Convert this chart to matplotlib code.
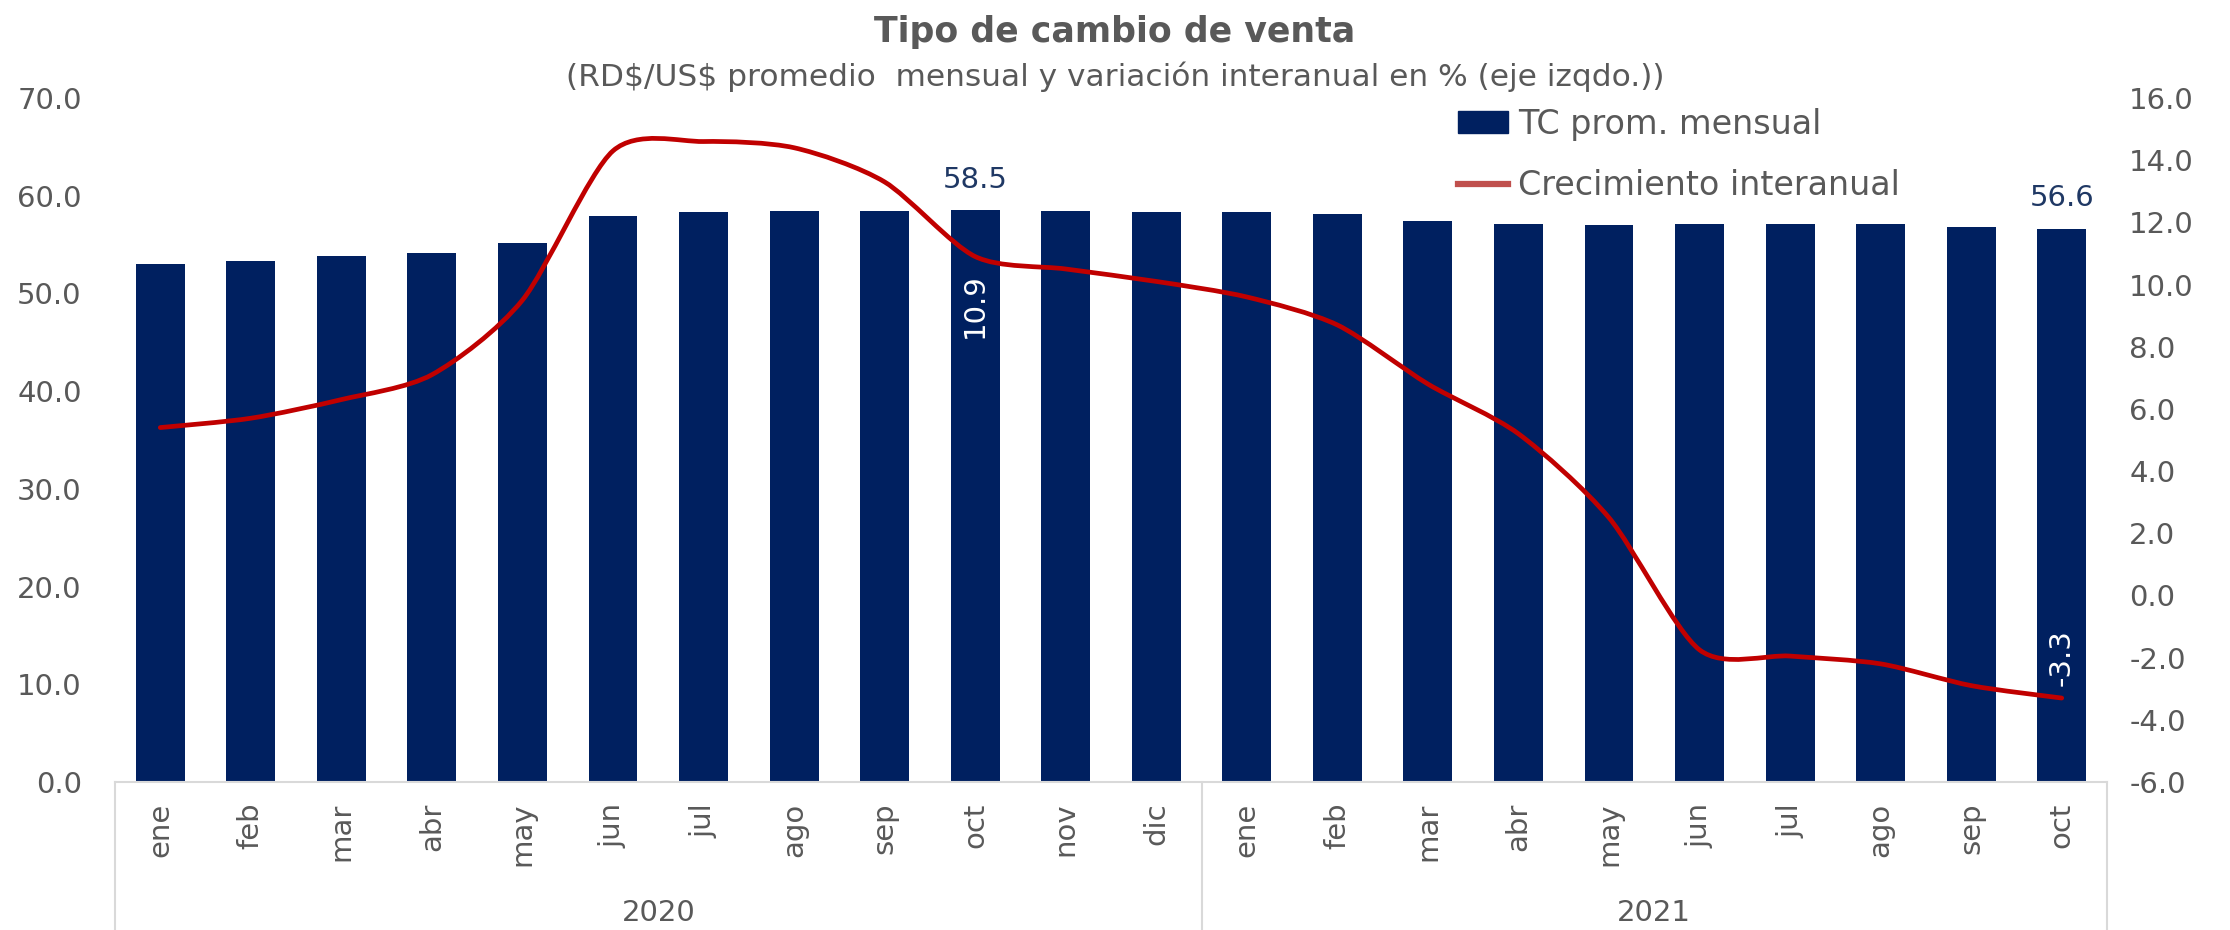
import matplotlib
matplotlib.use("Agg")
import matplotlib.pyplot as plt
from matplotlib.path import Path
from matplotlib.patches import PathPatch, Patch
from matplotlib.lines import Line2D
import matplotlib.transforms as mtransforms
import numpy as np

plt.rcParams['font.family'] = ['DejaVu Sans']

months = ["ene", "feb", "mar", "abr", "may", "jun", "jul", "ago", "sep", "oct", "nov", "dic",
          "ene", "feb", "mar", "abr", "may", "jun", "jul", "ago", "sep", "oct"]
years = ["2020", "2021"]
year_counts = [12, 10]
tc_prom = [53.0, 53.3, 53.8, 54.1, 55.2, 57.9, 58.3, 58.4, 58.4, 58.5, 58.4, 58.3,
           58.3, 58.1, 57.4, 57.1, 57.0, 57.1, 57.1, 57.1, 56.8, 56.6]
crec = [5.4, 5.7, 6.3, 7.1, 9.5, 14.3, 14.6, 14.4, 13.3, 10.9, 10.5, 10.1,
        9.6, 8.7, 6.8, 5.2, 2.5, -1.75, -1.95, -2.2, -2.9, -3.3]
left_ticks = [0, 10, 20, 30, 40, 50, 60, 70]
right_ticks = [-6, -4, -2, 0, 2, 4, 6, 8, 10, 12, 14, 16]
label_bar_idx = [9, 21]
label_line_idx = [9, 21]

BAR = '#002060'
RED = '#C00000'
GRAY = '#595959'
AXC = '#D9D9D9'

W, H = 2230, 930
fig = plt.figure(figsize=(W / 100, H / 100), dpi=100)
ax = fig.add_axes([115 / W, 1 - 782 / H, (2107 - 115) / W, (782 - 98) / H])
ax2 = ax.twinx()

x = np.arange(len(months))
ax.bar(x, tc_prom, width=0.54, color=BAR, zorder=2)
ax.set_xlim(-0.5, len(months) - 0.5)
ax.set_ylim(0, 70)
ax.set_yticks(left_ticks)
ax.set_yticklabels([f"{v:.1f}" for v in left_ticks])
ax.set_xticks(x)
ax.set_xticklabels(months, rotation=90, va='top', ha='center')
ax.tick_params(axis='x', length=0, pad=15, labelsize=21, labelcolor=GRAY)
ax.tick_params(axis='y', length=0, pad=24, labelsize=21, labelcolor=GRAY)
for s in ['top', 'left', 'right']:
    ax.spines[s].set_visible(False)
ax.spines['bottom'].set_color(AXC)
ax.spines['bottom'].set_linewidth(1.5)

ax2.set_ylim(-6, 16)
ax2.set_yticks(right_ticks)
ax2.set_yticklabels([f"{v:.1f}" for v in right_ticks])
ax2.tick_params(axis='y', length=0, pad=16, labelsize=21, labelcolor=GRAY)
for s in ['top', 'left', 'right', 'bottom']:
    ax2.spines[s].set_visible(False)

# smoothed line (softened Catmull-Rom Bezier through the data points, like Excel's smoothed line)
P = np.column_stack([x, crec]).astype(float)
n = len(P)
k = 0.8
verts = [P[0]]
codes = [Path.MOVETO]
for i in range(n - 1):
    p0 = P[i - 1] if i > 0 else P[i]
    p1 = P[i]
    p2 = P[i + 1]
    p3 = P[i + 2] if i + 2 < n else P[i + 1]
    c1 = p1 + k * (p2 - p0) / 6.0
    c2 = p2 - k * (p3 - p1) / 6.0
    verts += [c1, c2, p2]
    codes += [Path.CURVE4] * 3
ax2.add_patch(PathPatch(Path(verts, codes), facecolor='none', edgecolor=RED,
                        lw=3.4, capstyle='round', joinstyle='round', zorder=3))
ax2.plot(x, crec, alpha=0)

# data labels
for i in label_bar_idx:
    ax.annotate(f"{tc_prom[i]:.1f}", (x[i], tc_prom[i]), xytext=(0, 12),
                textcoords='offset points', ha='center', va='bottom',
                fontsize=21, color='#1F3864')
for i in label_line_idx:
    if crec[i] > 0:
        ax2.annotate(f"{crec[i]:.1f}", (x[i], crec[i]), xytext=(0, -12),
                     textcoords='offset points', ha='center', va='top',
                     rotation=90, fontsize=21, color='white', zorder=5)
    else:
        ax2.annotate(f"{crec[i]:.1f}", (x[i], crec[i]), xytext=(0, 9),
                     textcoords='offset points', ha='center', va='bottom',
                     rotation=90, fontsize=21, color='white', zorder=5)

# multi-level category axis
trans = mtransforms.blended_transform_factory(ax.transData, ax.transAxes)
bounds = [-0.5]
for c in year_counts:
    bounds.append(bounds[-1] + c)
for b in bounds:
    ax.plot([b, b], [0, -0.3], transform=trans, color=AXC, lw=1.5, clip_on=False)
for yr, a, b in zip(years, bounds[:-1], bounds[1:]):
    ax.text((a + b) / 2, -(913 - 782) / (782 - 98), yr, transform=trans,
            ha='center', va='center', fontsize=21, color=GRAY)

# titles
fig.text(0.5, 1 - 32 / H, "Tipo de cambio de venta", ha='center', va='center',
         fontsize=25, fontweight='bold', color=GRAY)
fig.text(0.5, 1 - 77 / H, "(RD\\$/US\\$ promedio  mensual y variación interanual en % (eje izqdo.))",
         ha='center', va='center', fontsize=22.5, color=GRAY)

# legend
handles = [Patch(facecolor=BAR, edgecolor=BAR),
           Line2D([0], [0], color='#C0504D', lw=4.5)]
fig.legend(handles, ["TC prom. mensual", "Crecimiento interanual"],
           loc='upper left', bbox_to_anchor=(1458 / W, 1 - 108 / H),
           frameon=False, fontsize=24, labelcolor=GRAY, borderpad=0,
           borderaxespad=0, handlelength=1.5, handleheight=0.65,
           handletextpad=0.3, labelspacing=0.85)

fig.savefig("out.png", dpi=100)
